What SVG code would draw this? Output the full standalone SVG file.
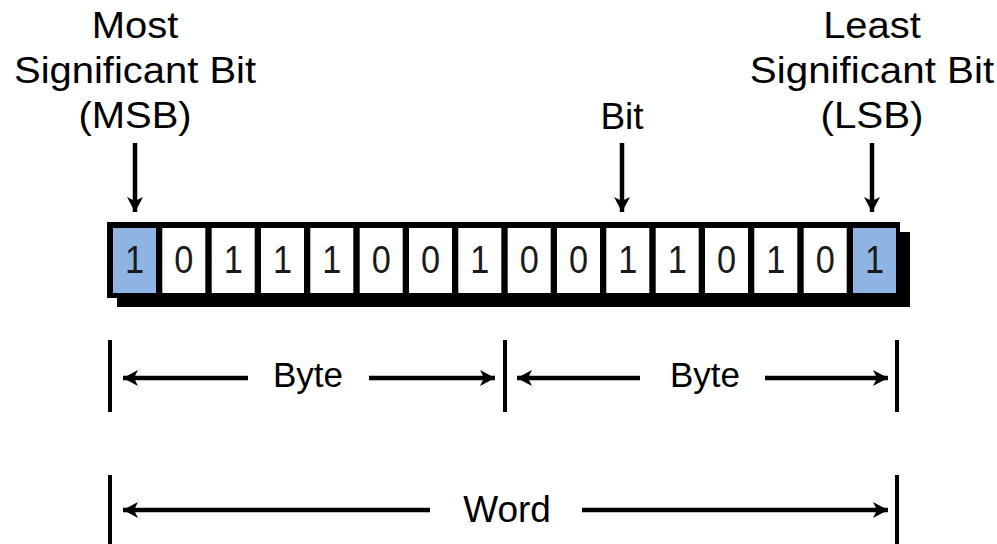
<svg xmlns="http://www.w3.org/2000/svg" width="997" height="544" viewBox="0 0 997 544">
  <style>
    .lbl { font-family: "Liberation Sans", Arial, sans-serif; font-size: 37px; fill: #000; text-anchor: middle; }
    .dig { font-family: "Liberation Sans", Arial, sans-serif; font-size: 39px; fill: #1a1a1a; text-anchor: middle; }
    .cell { fill: #ffffff; }
    .end { fill: #8db4e2; }
    .ln { stroke: #000; stroke-width: 4.5; fill: none; }
    .bar { stroke: #000; stroke-width: 4; }
  </style>
  <defs>
    <marker id="head" markerUnits="userSpaceOnUse" markerWidth="20" markerHeight="20" viewBox="0 0 20 20" refX="16" refY="10" orient="auto-start-reverse">
      <path d="M16,10 L1,2 L5,10 L1,18 Z" fill="#000"/>
    </marker>
  </defs>
  <rect width="997" height="544" fill="#fff"/>

  <!-- labels (slightly widened type) -->
  <g id="msb-label">
    <text class="lbl" transform="translate(135,38) scale(1.08,1)">Most</text>
    <text class="lbl" transform="translate(135,83) scale(1.08,1)">Significant Bit</text>
    <text class="lbl" transform="translate(135,128) scale(1.08,1)">(MSB)</text>
  </g>
  <g id="bit-label">
    <text class="lbl" x="622" y="129">Bit</text>
  </g>
  <g id="lsb-label">
    <text class="lbl" transform="translate(872,38) scale(1.08,1)">Least</text>
    <text class="lbl" transform="translate(872,83) scale(1.09,1)">Significant Bit</text>
    <text class="lbl" transform="translate(872,128) scale(1.09,1)">(LSB)</text>
  </g>

  <!-- 16-bit word strip -->
  <g id="word-strip">
    <rect x="117" y="232" width="793" height="75" fill="#000"/>
    <rect x="107" y="222" width="793" height="76" fill="#000"/>
    <rect class="end"  x="113.0" y="228" width="43" height="65"/>
    <rect class="cell" x="162.3" y="228" width="43" height="65"/>
    <rect class="cell" x="211.7" y="228" width="43" height="65"/>
    <rect class="cell" x="261.0" y="228" width="43" height="65"/>
    <rect class="cell" x="310.3" y="228" width="43" height="65"/>
    <rect class="cell" x="359.7" y="228" width="43" height="65"/>
    <rect class="cell" x="409.0" y="228" width="43" height="65"/>
    <rect class="cell" x="458.3" y="228" width="43" height="65"/>
    <rect class="cell" x="507.7" y="228" width="43" height="65"/>
    <rect class="cell" x="557.0" y="228" width="43" height="65"/>
    <rect class="cell" x="606.3" y="228" width="43" height="65"/>
    <rect class="cell" x="655.7" y="228" width="43" height="65"/>
    <rect class="cell" x="705.0" y="228" width="43" height="65"/>
    <rect class="cell" x="754.3" y="228" width="43" height="65"/>
    <rect class="cell" x="803.7" y="228" width="43" height="65"/>
    <rect class="end"  x="853.0" y="228" width="43" height="65"/>
    <g class="dig">
      <text transform="translate(134.5,273) scale(0.88,1)">1</text>
      <text transform="translate(183.8,273) scale(0.88,1)">0</text>
      <text transform="translate(233.2,273) scale(0.88,1)">1</text>
      <text transform="translate(282.5,273) scale(0.88,1)">1</text>
      <text transform="translate(331.8,273) scale(0.88,1)">1</text>
      <text transform="translate(381.2,273) scale(0.88,1)">0</text>
      <text transform="translate(430.5,273) scale(0.88,1)">0</text>
      <text transform="translate(479.8,273) scale(0.88,1)">1</text>
      <text transform="translate(529.2,273) scale(0.88,1)">0</text>
      <text transform="translate(578.5,273) scale(0.88,1)">0</text>
      <text transform="translate(627.8,273) scale(0.88,1)">1</text>
      <text transform="translate(677.2,273) scale(0.88,1)">1</text>
      <text transform="translate(726.5,273) scale(0.88,1)">0</text>
      <text transform="translate(775.8,273) scale(0.88,1)">1</text>
      <text transform="translate(825.2,273) scale(0.88,1)">0</text>
      <text transform="translate(874.5,273) scale(0.88,1)">1</text>
    </g>
  </g>

  <!-- span labels -->
  <g id="byte-high"><text class="lbl" x="308" y="387" style="font-size:35px">Byte</text></g>
  <g id="byte-low"><text class="lbl" x="705" y="387" style="font-size:35px">Byte</text></g>
  <g id="word"><text class="lbl" x="507" y="522">Word</text></g>

  <!-- connectors -->
  <g id="connectors">
    <line class="ln" x1="135" y1="143" x2="135" y2="212" marker-end="url(#head)"/>
    <line class="ln" x1="622" y1="143" x2="622" y2="212" marker-end="url(#head)"/>
    <line class="ln" x1="872" y1="143" x2="872" y2="212" marker-end="url(#head)"/>

    <line class="bar" x1="110" y1="340" x2="110" y2="412"/>
    <line class="bar" x1="505" y1="340" x2="505" y2="412"/>
    <line class="bar" x1="897" y1="340" x2="897" y2="412"/>
    <line class="ln" x1="123" y1="378" x2="248" y2="378" marker-start="url(#head)"/>
    <line class="ln" x1="369" y1="378" x2="495" y2="378" marker-end="url(#head)"/>
    <line class="ln" x1="517" y1="378" x2="640" y2="378" marker-start="url(#head)"/>
    <line class="ln" x1="765" y1="378" x2="888" y2="378" marker-end="url(#head)"/>

    <line class="bar" x1="110" y1="475" x2="110" y2="544"/>
    <line class="bar" x1="897" y1="475" x2="897" y2="544"/>
    <line class="ln" x1="123" y1="510" x2="430" y2="510" marker-start="url(#head)"/>
    <line class="ln" x1="582" y1="510" x2="888" y2="510" marker-end="url(#head)"/>
  </g>
</svg>
